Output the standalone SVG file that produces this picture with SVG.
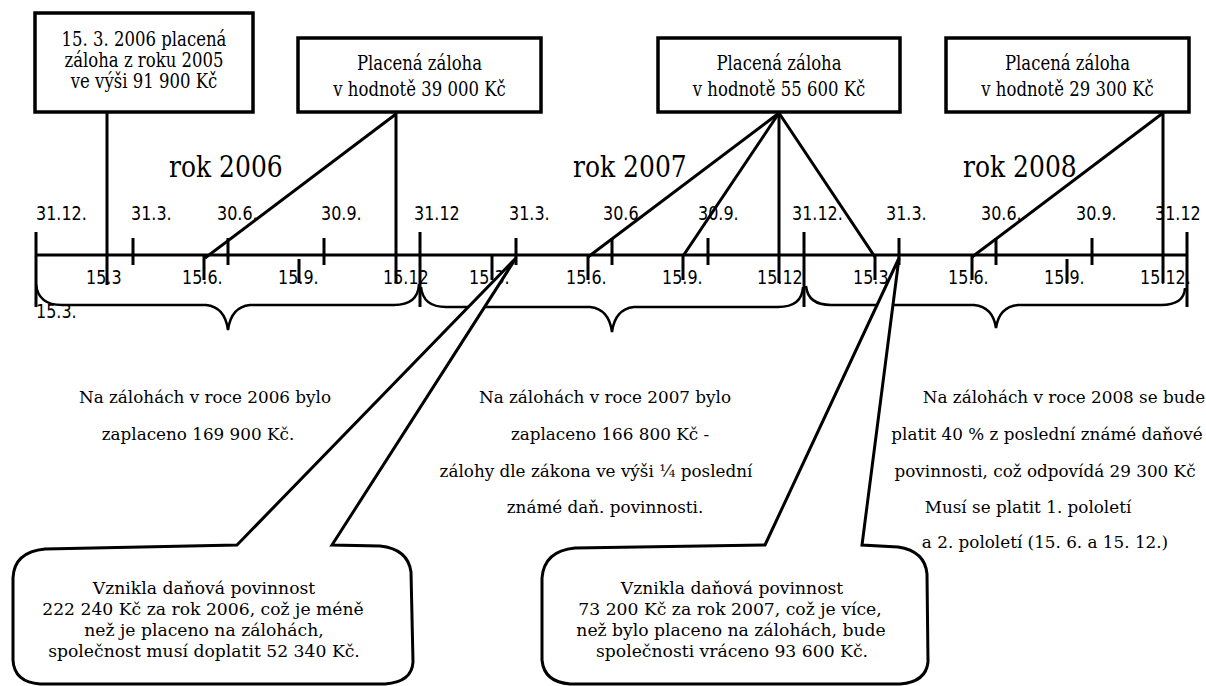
<svg xmlns="http://www.w3.org/2000/svg" width="1206" height="686" viewBox="0 0 1206 686">
<style>
.ln{stroke:#000;stroke-width:3;fill:none;stroke-linecap:butt}
.bx{stroke:#000;stroke-width:3.5;fill:#fff}
.br{stroke:#000;stroke-width:2.5;fill:none}
.bub{stroke:#000;stroke-width:3;fill:#fff;stroke-linejoin:miter}
.lb{font-family:"DejaVu Sans",Verdana,sans-serif;font-size:16px;fill:#000}
.sf{font-family:"DejaVu Serif","Liberation Serif",serif;font-size:16.5px;fill:#000}
.md{font-size:16.8px}
.bt{font-size:17.2px}
.yr{font-family:"DejaVu Serif","Liberation Serif",serif;font-size:25px;fill:#000}
.c{text-anchor:middle}
</style>
<rect width="1206" height="686" fill="#fff"/>

<g id="connectors">
<line class="ln" x1="107" y1="112" x2="107" y2="285"/>
<line class="ln" x1="396" y1="112" x2="396" y2="283"/>
<line class="ln" x1="396" y1="114" x2="205" y2="258"/>
<line class="ln" x1="779" y1="112" x2="779" y2="283"/>
<line class="ln" x1="779" y1="113" x2="588" y2="257"/>
<line class="ln" x1="779" y1="113" x2="683" y2="256"/>
<line class="ln" x1="779" y1="113" x2="875" y2="257"/>
<line class="ln" x1="1163" y1="112" x2="1163" y2="283"/>
<line class="ln" x1="1163" y1="113" x2="972" y2="257"/>
</g>

<g id="timeline">
<line class="ln" x1="36" y1="255" x2="1187" y2="255"/>
<path class="ln" d="M36 232V307M420 232V307M804 232V307M1187 232V307"/>
<path class="ln" d="M133 238V265M228 238V265M324 238V265M516 238V265M612 238V265M708 238V265M899 238V265M996 238V265M1092 238V265"/>
<path class="ln" d="M204 255V280M299 259V283M492 255V280M588 255V280M683 255V280M875 255V280M972 255V280M1067 259V283"/>
</g>

<g id="braces">
<path class="br" d="M36 284Q38 305 62 305L206 305Q225 307 228 330Q231 307 250 305L394 305Q418 305 419 284"/>
<path class="br" d="M421 287Q423 307 446 307L590 307Q609 309 612 332Q615 309 634 307L778 307Q802 307 803 287"/>
<path class="br" d="M806 286Q808 305 831 305L974 305Q993 307 996 328Q999 307 1018 305L1161 305Q1184 305 1185 288"/>
</g>

<g id="dates">
<text class="lb" transform="translate(36 219.5) scale(1 1.18)">31.12.</text>
<text class="lb" transform="translate(131 219.5) scale(1 1.18)">31.3.</text>
<text class="lb" transform="translate(217 219.5) scale(1 1.18)">30.6.</text>
<text class="lb" transform="translate(321 219.5) scale(1 1.18)">30.9.</text>
<text class="lb" transform="translate(414 219.5) scale(1 1.18)">31.12</text>
<text class="lb" transform="translate(509 219.5) scale(1 1.18)">31.3.</text>
<text class="lb" transform="translate(603 219.5) scale(1 1.18)">30.6</text>
<text class="lb" transform="translate(698 219.5) scale(1 1.18)">30.9.</text>
<text class="lb" transform="translate(792 219.5) scale(1 1.18)">31.12.</text>
<text class="lb" transform="translate(886 219.5) scale(1 1.18)">31.3.</text>
<text class="lb" transform="translate(981 219.5) scale(1 1.18)">30.6.</text>
<text class="lb" transform="translate(1076 219.5) scale(1 1.18)">30.9.</text>
<text class="lb" transform="translate(1155 219.5) scale(1 1.18)">31.12</text>
<text class="lb" transform="translate(86 284) scale(1 1.18)">15.3</text>
<text class="lb" transform="translate(182 284) scale(1 1.18)">15.6.</text>
<text class="lb" transform="translate(278 284) scale(1 1.18)">15.9.</text>
<text class="lb" transform="translate(383 284) scale(1 1.18)">15.12</text>
<text class="lb" transform="translate(469 284) scale(1 1.18)">15.3.</text>
<text class="lb" transform="translate(566 284) scale(1 1.18)">15.6.</text>
<text class="lb" transform="translate(662 284) scale(1 1.18)">15.9.</text>
<text class="lb" transform="translate(757 284) scale(1 1.18)">15.12</text>
<text class="lb" transform="translate(853 284) scale(1 1.18)">15.3</text>
<text class="lb" transform="translate(948 284) scale(1 1.18)">15.6.</text>
<text class="lb" transform="translate(1044 284) scale(1 1.18)">15.9.</text>
<text class="lb" transform="translate(1140 284) scale(1 1.18)">15.12.</text>
<text class="lb" transform="translate(36 318) scale(1 1.18)">15.3.</text>
</g>

<g id="years">
<text class="yr" transform="translate(169 176.5) scale(1 1.2)">rok 2006</text>
<text class="yr" transform="translate(573 176.5) scale(1 1.2)">rok 2007</text>
<text class="yr" transform="translate(963 176.5) scale(1 1.2)">rok 2008</text>
</g>

<g id="box1">
<rect class="bx" x="35" y="13" width="218" height="99"/>
<text class="sf c" transform="translate(144 46) scale(1 1.2)">15. 3. 2006 placená</text>
<text class="sf c" transform="translate(144 67) scale(1 1.2)">záloha z roku 2005</text>
<text class="sf c" transform="translate(144 88) scale(1 1.2)">ve výši 91 900 Kč</text>
</g>
<g id="box2">
<rect class="bx" x="298" y="38" width="243" height="74"/>
<text class="sf c" transform="translate(419.5 70) scale(1 1.2)">Placená záloha</text>
<text class="sf c" transform="translate(419.5 96) scale(1 1.2)">v hodnotě 39 000 Kč</text>
</g>
<g id="box3">
<rect class="bx" x="658" y="38" width="242" height="74"/>
<text class="sf c" transform="translate(779 70) scale(1 1.2)">Placená záloha</text>
<text class="sf c" transform="translate(779 96) scale(1 1.2)">v hodnotě 55 600 Kč</text>
</g>
<g id="box4">
<rect class="bx" x="946" y="38" width="243" height="74"/>
<text class="sf c" transform="translate(1067.5 70) scale(1 1.2)">Placená záloha</text>
<text class="sf c" transform="translate(1067.5 96) scale(1 1.2)">v hodnotě 29 300 Kč</text>
</g>

<g id="note2006">
<text class="sf md c" x="205" y="403">Na zálohách v roce 2006 bylo</text>
<text class="sf md c" x="198" y="440">zaplaceno 169 900 Kč.</text>
</g>
<g id="note2007">
<text class="sf md c" x="605" y="403">Na zálohách v roce 2007 bylo</text>
<text class="sf md c" x="610" y="440">zaplaceno 166 800 Kč -</text>
<text class="sf md c" x="596" y="477">zálohy dle zákona ve výši ¼ poslední</text>
<text class="sf md c" x="605" y="513">známé daň. povinnosti.</text>
</g>
<g id="note2008">
<text class="sf md c" x="1064" y="403">Na zálohách v roce 2008 se bude</text>
<text class="sf md c" x="1047" y="440">platit 40 % z poslední známé daňové</text>
<text class="sf md c" x="1045" y="477">povinnosti, což odpovídá 29 300 Kč</text>
<text class="sf md c" x="1028" y="513">Musí se platit 1. pololetí</text>
<text class="sf md c" x="1045" y="548">a 2. pololetí (15. 6. a 15. 12.)</text>
</g>

<g id="callout1">
<path class="bub" d="M237 545L516 258L332 545L380 546Q408 549 411 572L413 662Q412 682 385 684L40 684Q14 682 13 660L13 578Q14 552 45 549Z"/>
<text class="sf bt c" x="204" y="594">Vznikla daňová povinnost</text>
<text class="sf bt c" x="203" y="615">222 240 Kč za rok 2006, což je méně</text>
<text class="sf bt c" x="204" y="636">než je placeno na zálohách,</text>
<text class="sf bt c" x="204" y="657">společnost musí doplatit 52 340 Kč.</text>
</g>
<g id="callout2">
<path class="bub" d="M765 545L899 258L862 545L898 547Q925 551 927 574L928 662Q926 682 900 684L570 684Q544 682 542 660L542 578Q544 551 575 548Z"/>
<text class="sf bt c" x="732" y="594">Vznikla daňová povinnost</text>
<text class="sf bt c" x="730" y="615">73 200 Kč za rok 2007, což je více,</text>
<text class="sf bt c" x="731" y="636">než bylo placeno na zálohách, bude</text>
<text class="sf bt c" x="732" y="657">společnosti vráceno 93 600 Kč.</text>
</g>
</svg>
